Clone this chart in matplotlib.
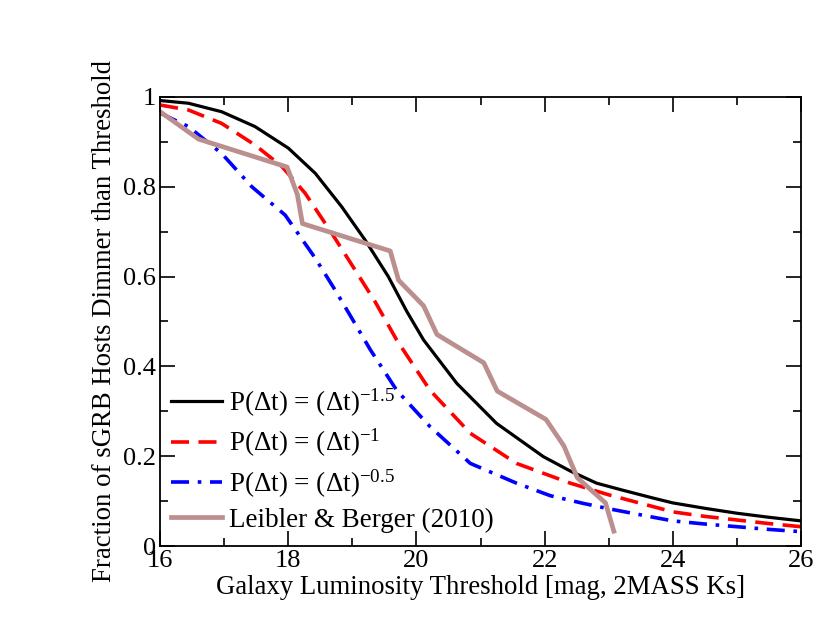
import matplotlib
matplotlib.use("Agg")
import matplotlib.pyplot as plt
from matplotlib.ticker import MultipleLocator

plt.rcParams['font.family'] = ['Liberation Serif', 'DejaVu Serif']
plt.rcParams['mathtext.fontset'] = 'custom'
plt.rcParams['mathtext.rm'] = 'Liberation Serif'
plt.rcParams['mathtext.default'] = 'regular'

# model curves
mag_a = [16.0, 16.44, 16.96, 17.48, 18.0, 18.42, 18.83, 19.2, 19.56, 19.85, 20.11, 20.63, 21.25, 21.98,
         22.4, 22.81, 23.2, 23.66, 24.0, 24.5, 25.0, 25.5, 26.0]
frac_a = [0.992, 0.986, 0.967, 0.934, 0.886, 0.83, 0.756, 0.681, 0.60, 0.522, 0.459, 0.362, 0.273, 0.199,
          0.167, 0.14, 0.125, 0.108, 0.096, 0.084, 0.073, 0.064, 0.056]

mag_b = [16.0, 16.44, 16.96, 17.48, 17.9, 18.26, 18.68, 19.04, 19.35, 19.69, 20.21, 20.84, 21.56, 22.4,
         23.0, 23.66, 24.0, 24.5, 25.0, 25.5, 26.0]
frac_b = [0.982, 0.971, 0.941, 0.893, 0.845, 0.786, 0.696, 0.615, 0.545, 0.459, 0.347, 0.251, 0.184, 0.14,
          0.114, 0.089, 0.076, 0.066, 0.058, 0.05, 0.043]

mag_c = [16.0, 16.44, 16.96, 17.43, 17.95, 18.42, 18.73, 19.0, 19.28, 19.69, 20.21, 20.84, 21.56, 22.09,
         22.6, 23.0, 23.66, 24.0, 24.5, 25.0, 25.5, 26.0]
frac_c = [0.964, 0.934, 0.874, 0.80, 0.737, 0.641, 0.57, 0.505, 0.437, 0.347, 0.266, 0.184, 0.14, 0.112,
          0.095, 0.083, 0.065, 0.056, 0.049, 0.043, 0.037, 0.032]

# Leibler & Berger (2010)
mag_lb = [16.0, 16.6, 17.98, 18.14, 18.22, 19.59, 19.72, 20.11, 20.32, 21.05, 21.26, 22.02, 22.3, 22.51, 22.95, 23.08]
frac_lb = [0.967, 0.906, 0.844, 0.783, 0.718, 0.657, 0.592, 0.535, 0.471, 0.408, 0.345, 0.282, 0.223, 0.152, 0.096, 0.033]

labels = ['P(Δt) = (Δt)$^{-1.5}$', 'P(Δt) = (Δt)$^{-1}$', 'P(Δt) = (Δt)$^{-0.5}$', 'Leibler & Berger (2010)']

fig = plt.figure(figsize=(8.3, 6.42), dpi=100)
ax = fig.add_axes([0.193, 0.1495, 0.772, 0.6995])

ax.plot(mag_a, frac_a, color='black', lw=2.3, label=labels[0])
ax.plot(mag_b, frac_b, color='red', lw=2.6, dashes=(5, 2.6), label=labels[1])
ax.plot(mag_c, frac_c, color='blue', lw=2.6, dashes=(5, 2.4, 1, 2.4), label=labels[2])
ax.plot(mag_lb, frac_lb, color=(188/255, 143/255, 143/255), lw=3.4, label=labels[3])

ax.set_xlim(16, 26)
ax.set_ylim(0, 1)
ax.xaxis.set_major_locator(MultipleLocator(2))
ax.xaxis.set_minor_locator(MultipleLocator(1))
ax.yaxis.set_minor_locator(MultipleLocator(0.1))
ax.set_yticks([0, 0.2, 0.4, 0.6, 0.8, 1.0])
ax.set_yticklabels(['0', '0.2', '0.4', '0.6', '0.8', '1'])
ax.tick_params(which='both', direction='in', top=True, right=True, width=1.2, labelsize=19, pad=3)
ax.tick_params(which='major', length=11)
ax.tick_params(which='minor', length=6)
for s in ax.spines.values():
    s.set_linewidth(1.3)

ax.set_xlabel('Galaxy Luminosity Threshold [mag, 2MASS Ks]', fontsize=19.3, labelpad=2)
ax.set_ylabel('Fraction of sGRB Hosts Dimmer than Threshold', fontsize=19.3, labelpad=4)

ax.legend(loc='lower left', frameon=False, fontsize=19.5, handlelength=1.9, handletextpad=0.25,
          labelspacing=0.3, borderaxespad=0.0, bbox_to_anchor=(0.0, 0.005))

fig.savefig('out.png', dpi=100)
